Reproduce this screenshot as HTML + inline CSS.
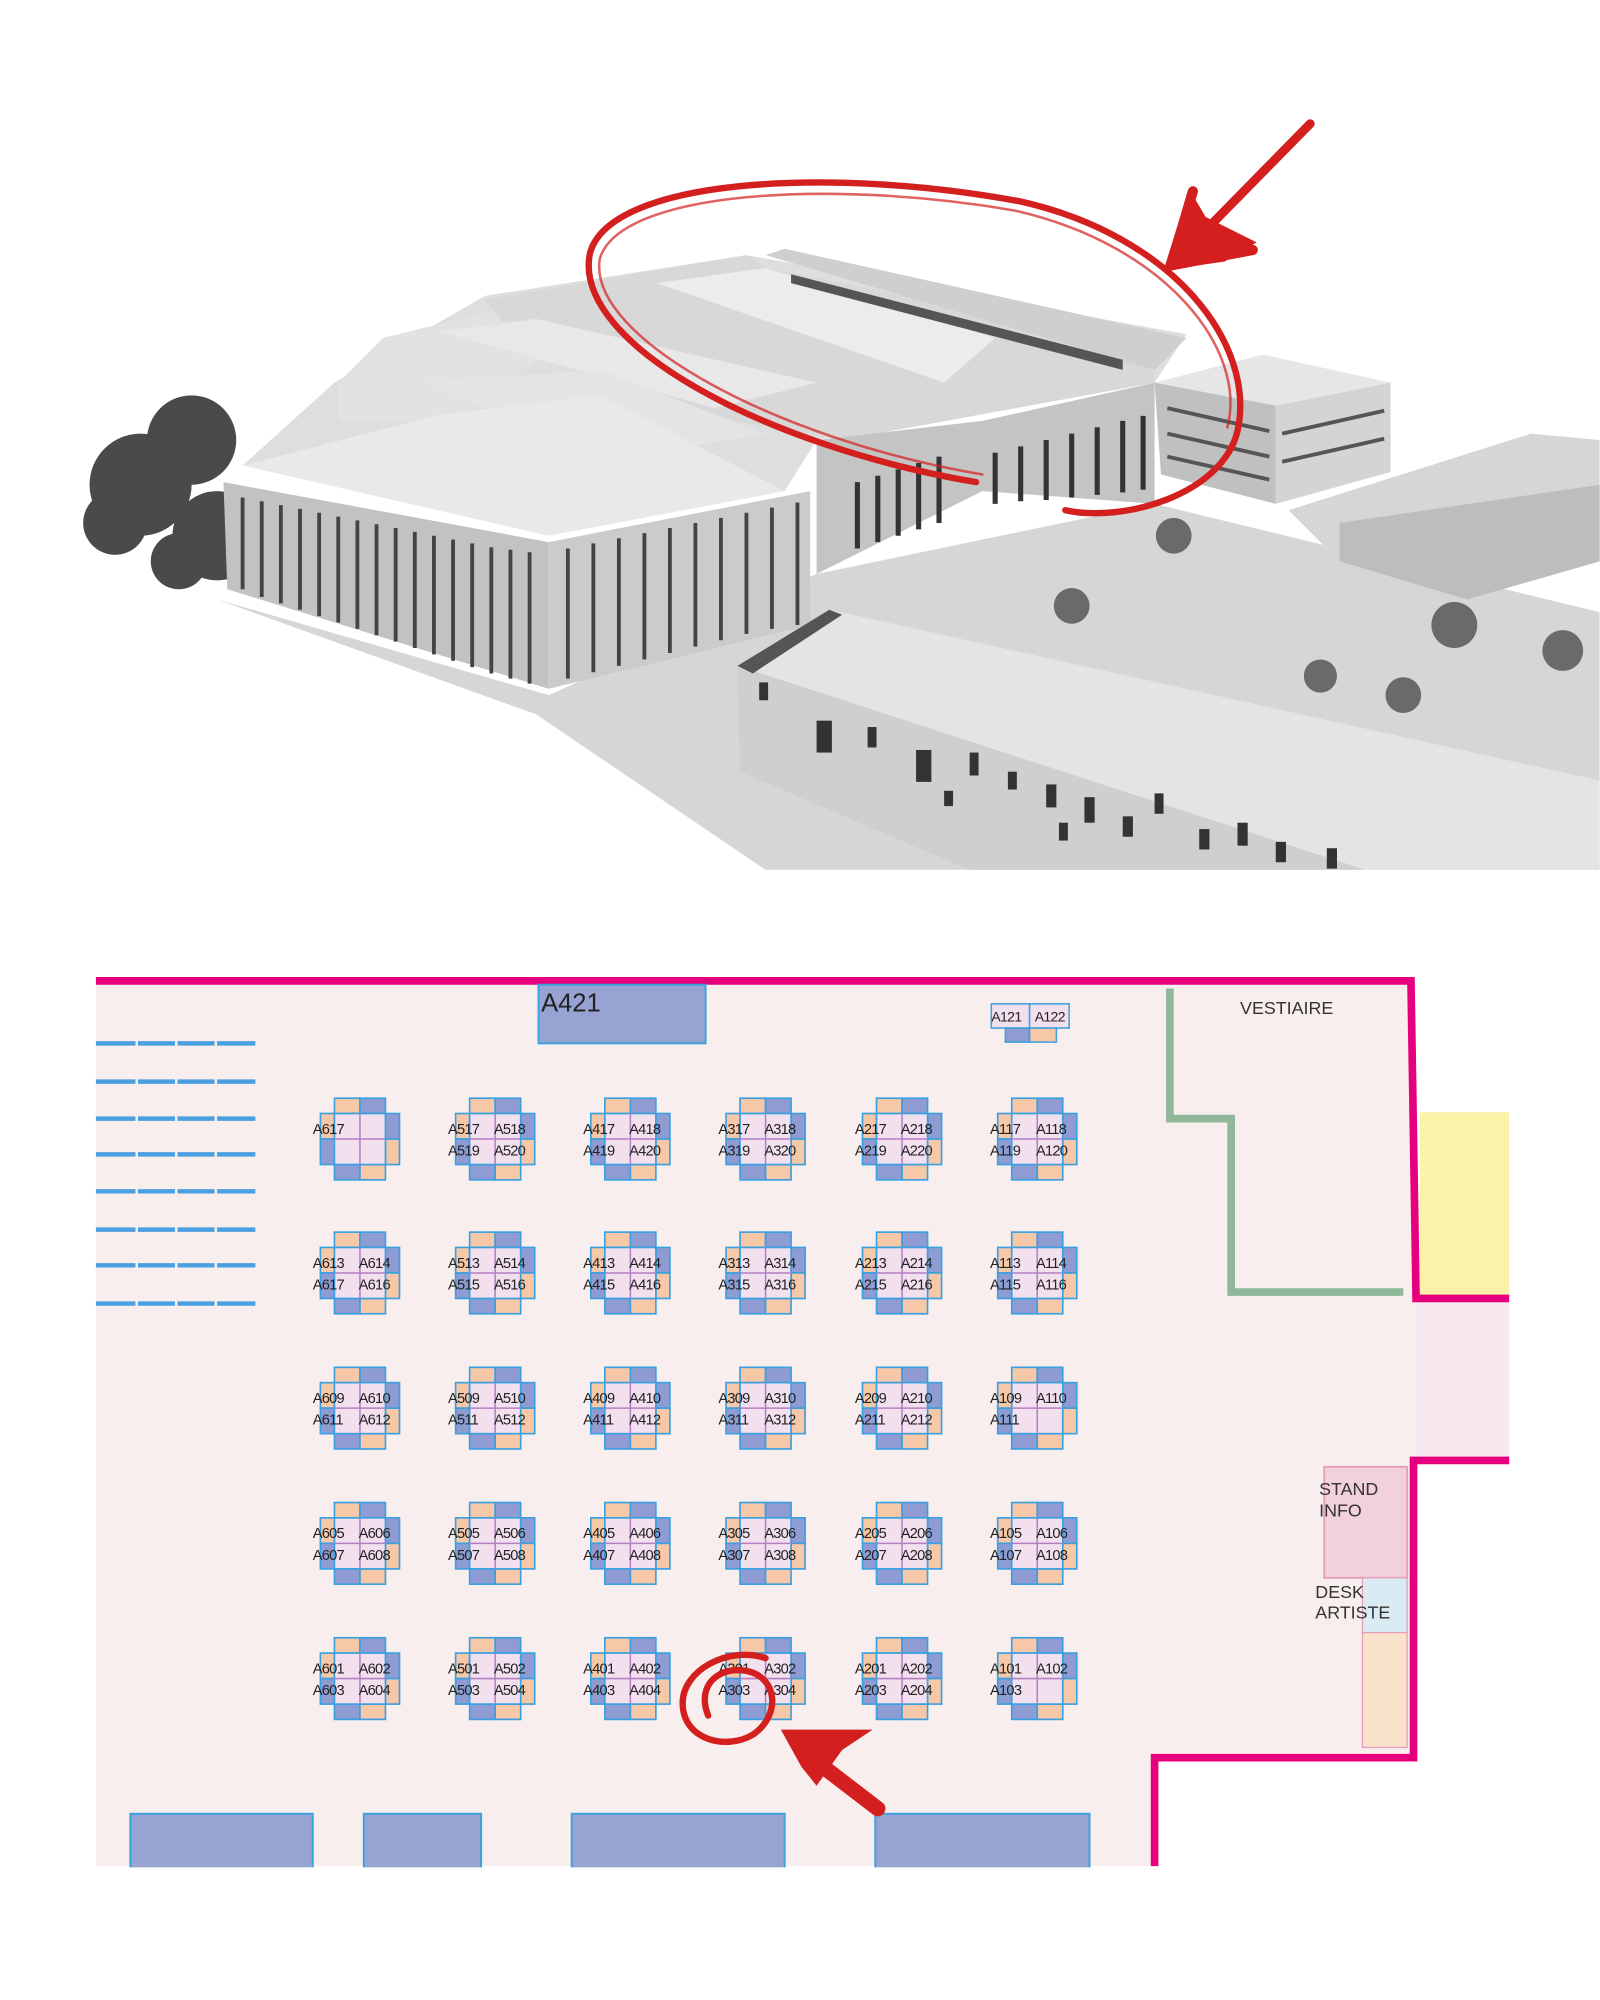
<!DOCTYPE html>
<html><head><meta charset="utf-8"><style>
html,body{margin:0;padding:0;background:#fff;}
svg{display:block;}
text{font-family:"Liberation Sans",sans-serif;}
</style></head><body>
<svg id="s" xmlns="http://www.w3.org/2000/svg" width="1600" height="2000" viewBox="0 0 1254 1568">
<rect width="1254" height="1568" fill="#fff"/>
<defs><clipPath id="ph"><rect x="0" y="0" width="1254" height="682"/></clipPath></defs>
<g clip-path="url(#ph)">
  <!-- ground -->
  <polygon points="170,470 430,545 640,450 905,395 1254,480 1254,682 600,682 420,560" fill="#d6d6d6"/>
  <!-- trees left -->
  <g fill="#4a4a4a"><circle cx="110" cy="380" r="40"/><circle cx="150" cy="345" r="35"/><circle cx="170" cy="420" r="35"/><circle cx="90" cy="410" r="25"/><circle cx="140" cy="440" r="22"/></g>
  <!-- base mass -->
  <polygon points="262,300 380,232 585,200 930,262 905,300 640,345 615,385 190,365" fill="#dedede"/>
  <!-- back buildings -->
  <polygon points="265,300 300,265 400,240 450,260 360,330 265,330" fill="#e2e2e2"/>
  <polygon points="380,235 585,200 600,210 900,270 905,300 660,345 520,320 400,260" fill="#d8d8d8"/>
  <polygon points="515,222 600,210 780,265 740,300" fill="#ececec"/>
  <polygon points="600,200 615,195 930,265 905,290" fill="#cfcfcf"/>
  <polygon points="620,215 880,282 880,290 620,222" fill="#555"/>
  <polygon points="345,260 420,250 640,300 560,320" fill="#e8e8e8"/>
  <polygon points="330,300 470,290 600,340 480,360" fill="#e4e4e4"/>
  <!-- middle facade -->
  <polygon points="640,345 770,330 905,300 905,395 770,385 640,450" fill="#c4c4c4"/>
  <g stroke="#333" stroke-width="4">
    <line x1="672" y1="378" x2="672" y2="430"/><line x1="688" y1="373" x2="688" y2="425"/><line x1="704" y1="368" x2="704" y2="420"/><line x1="720" y1="363" x2="720" y2="415"/><line x1="736" y1="358" x2="736" y2="410"/>
    <line x1="780" y1="355" x2="780" y2="395"/><line x1="800" y1="350" x2="800" y2="393"/><line x1="820" y1="345" x2="820" y2="392"/><line x1="840" y1="340" x2="840" y2="390"/><line x1="860" y1="335" x2="860" y2="388"/><line x1="880" y1="330" x2="880" y2="386"/><line x1="896" y1="326" x2="896" y2="384"/>
  </g>
  <!-- right cube -->
  <polygon points="905,300 990,278 1090,300 1000,318" fill="#e6e6e6"/>
  <polygon points="905,300 1000,318 1000,395 910,372" fill="#c0c0c0"/>
  <polygon points="1000,318 1090,300 1090,370 1000,395" fill="#d4d4d4"/>
  <g stroke="#555" stroke-width="3"><line x1="915" y1="320" x2="995" y2="338"/><line x1="915" y1="340" x2="995" y2="358"/><line x1="915" y1="358" x2="995" y2="376"/><line x1="1005" y1="340" x2="1085" y2="322"/><line x1="1005" y1="362" x2="1085" y2="344"/></g>
  <!-- far right building -->
  <polygon points="1010,400 1200,340 1254,345 1254,440 1150,470 1050,440" fill="#d6d6d6"/>
  <polygon points="1050,410 1254,380 1254,440 1150,470 1050,440" fill="#bdbdbd"/>
  <!-- left big building -->
  <polygon points="190,365 345,325 470,310 615,385 430,420" fill="#e9e9e9"/>
  <polygon points="175,378 430,425 430,540 178,462" fill="#c2c2c2"/>
  <polygon points="430,425 635,385 635,490 430,540" fill="#cbcbcb"/>
  <g stroke="#444" stroke-width="3">
    <line x1="190" y1="390" x2="190" y2="462"/><line x1="205" y1="393" x2="205" y2="468"/><line x1="220" y1="396" x2="220" y2="473"/><line x1="235" y1="399" x2="235" y2="478"/><line x1="250" y1="402" x2="250" y2="483"/><line x1="265" y1="405" x2="265" y2="488"/><line x1="280" y1="408" x2="280" y2="493"/><line x1="295" y1="411" x2="295" y2="498"/><line x1="310" y1="414" x2="310" y2="503"/><line x1="325" y1="417" x2="325" y2="508"/><line x1="340" y1="420" x2="340" y2="513"/><line x1="355" y1="423" x2="355" y2="518"/><line x1="370" y1="426" x2="370" y2="523"/><line x1="385" y1="429" x2="385" y2="528"/><line x1="400" y1="431" x2="400" y2="532"/><line x1="415" y1="433" x2="415" y2="536"/>
    <line x1="445" y1="430" x2="445" y2="532"/><line x1="465" y1="426" x2="465" y2="527"/><line x1="485" y1="422" x2="485" y2="522"/><line x1="505" y1="418" x2="505" y2="517"/><line x1="525" y1="414" x2="525" y2="512"/><line x1="545" y1="410" x2="545" y2="507"/><line x1="565" y1="406" x2="565" y2="502"/><line x1="585" y1="402" x2="585" y2="497"/><line x1="605" y1="398" x2="605" y2="493"/><line x1="625" y1="394" x2="625" y2="490"/>
  </g>
  <!-- trees plaza -->
  <g fill="#6a6a6a"><circle cx="920" cy="420" r="14"/><circle cx="840" cy="475" r="14"/><circle cx="1140" cy="490" r="18"/><circle cx="1100" cy="545" r="14"/><circle cx="1035" cy="530" r="13"/><circle cx="1225" cy="510" r="16"/></g>
  <!-- bottom right long building -->
  <polygon points="578,522 650,478 1254,612 1254,682 1070,682" fill="#e4e4e4"/>
  <polygon points="578,522 1070,682 760,682 580,605" fill="#cfcfcf"/>
  <polygon points="578,522 650,478 660,482 590,528" fill="#555"/>
  <g fill="#333">
    <rect x="595" y="535" width="7" height="14"/><rect x="640" y="565" width="12" height="25"/><rect x="680" y="570" width="7" height="16"/><rect x="718" y="588" width="12" height="25"/><rect x="760" y="590" width="7" height="18"/><rect x="790" y="605" width="7" height="14"/><rect x="820" y="615" width="8" height="18"/><rect x="850" y="625" width="8" height="20"/><rect x="880" y="640" width="8" height="16"/><rect x="905" y="622" width="7" height="16"/><rect x="940" y="650" width="8" height="16"/><rect x="970" y="645" width="8" height="18"/><rect x="1000" y="660" width="8" height="16"/><rect x="1040" y="665" width="8" height="16"/><rect x="830" y="645" width="7" height="14"/><rect x="740" y="620" width="7" height="12"/>
  </g>
</g>
<!-- red scribble photo -->
<g fill="none" stroke="#d41f1f" stroke-linecap="round">
  <path d="M765,378 C600,350 450,270 462,200 C475,140 650,130 800,158 C920,185 985,270 970,338 C958,388 880,410 835,400" stroke-width="5"/>
  <path d="M770,372 C610,345 460,265 470,203 C485,150 650,140 795,165 C915,192 978,275 962,335" stroke-width="2" opacity="0.7"/>
  <path d="M1027,97 L918,208" stroke-width="7"/>
  <path d="M918,208 L935,150 M918,208 L982,196" stroke-width="8"/>
</g>
<polygon points="912,212 932,148 945,170 985,190 960,205" fill="#d41f1f"/>

<!-- floor plan -->
<polygon points="75,769 1106,769 1110,1018 1110,1145 1108,1378 905,1378 905,1463 75,1463" fill="#f8eeee"/>
<rect x="1110" y="1021" width="73" height="124" fill="#f7e9ef"/>
<rect x="1113" y="872" width="70" height="145" fill="#fbf2a9"/>
<polyline points="917,775 917,877 965,877 965,1013 1100,1013" fill="none" stroke="#8fb89a" stroke-width="6"/>
<polyline points="75,769 1106,769 1110,1018 1183,1018" fill="none" stroke="#e6007e" stroke-width="6"/>
<polyline points="1183,1145 1108,1145 1108,1378 905,1378 905,1463" fill="none" stroke="#e6007e" stroke-width="6"/>
<text x="972" y="795" font-size="14" fill="#333">VESTIAIRE</text>

<rect x="422" y="772" width="131" height="46" fill="#97a3d3" stroke="#3aa0e0" stroke-width="1.5"/>
<text x="424" y="793" font-size="20" fill="#222">A421</text>

<g stroke="#3aa0e0" stroke-width="1.2">
  <rect x="777" y="787" width="30" height="19" fill="#f3e0ee"/><rect x="807" y="787" width="31" height="19" fill="#f3e0ee"/>
  <rect x="788" y="806" width="19" height="11" fill="#8f9bd3"/><rect x="807" y="806" width="21" height="11" fill="#f7c8a8"/>
</g>
<text x="777" y="801" font-size="11" fill="#222" letter-spacing="-0.5">A121</text>
<text x="811" y="801" font-size="11" fill="#222" letter-spacing="-0.5">A122</text>

<g id="lines" stroke="#4a9fe0" stroke-width="3.5"></g>

<g fill="#97a3d3" stroke="#3aa0e0" stroke-width="1.5">
  <rect x="102" y="1422" width="143" height="45"/><rect x="285" y="1422" width="92" height="45"/><rect x="448" y="1422" width="167" height="45"/><rect x="686" y="1422" width="168" height="45"/>
</g>
<rect x="75" y="1464" width="850" height="10" fill="#fff"/>

<rect x="1038" y="1150" width="65" height="87" fill="#f2d0dc" stroke="#e6a0bb" stroke-width="1.5"/>
<rect x="1068" y="1237" width="35" height="43" fill="#d9ecf3" stroke="#e6a0bb" stroke-width="1"/>
<rect x="1068" y="1280" width="35" height="90" fill="#fae3cc" stroke="#e6a0bb" stroke-width="1"/>
<text x="1034" y="1172" font-size="14" fill="#333">STAND</text>
<text x="1034" y="1189" font-size="14" fill="#333">INFO</text>
<text x="1031" y="1253" font-size="14" fill="#333">DESK</text>
<text x="1031" y="1269" font-size="14" fill="#333">ARTISTE</text>

<g id="pods"></g>

<!-- red scribble floor -->
<g fill="none" stroke="#d41f1f" stroke-linecap="round">
  <path d="M600,1300 C570,1290 535,1310 535,1335 C535,1365 570,1372 590,1360 C612,1345 610,1315 585,1310 C565,1306 545,1320 555,1345" stroke-width="5"/>
  <path d="M688,1418 L628,1372" stroke-width="12"/>
</g>
<polygon points="612,1356 684,1356 660,1372 640,1400 628,1385" fill="#d41f1f"/>

<script>
var NS="http://www.w3.org/2000/svg";
function el(p,t,a,txt){var e=document.createElementNS(NS,t);for(var k in a)e.setAttribute(k,a[k]);if(txt)e.textContent=txt;p.appendChild(e);return e;}
var L=document.getElementById("lines");
[818,848,877,905,934,964,992,1022].forEach(function(y){
  [[75,106],[108,137],[139,168],[170,200]].forEach(function(s){el(L,"line",{x1:s[0],y1:y,x2:s[1],y2:y});});
});
var P=document.getElementById("pods");
var cols=[282,388,494,600,707,813], rows=[893,998,1104,1210,1316];
var pre=["A6","A5","A4","A3","A2","A1"];
var rowNums=[[17,18,19,20],[13,14,15,16],[9,10,11,12],[5,6,7,8],[1,2,3,4]];
var OR="#f7c8a8",BL="#8f9bd3",BD="#3aa0e0";
function pad(n){return n<10?"0"+n:""+n;}
rows.forEach(function(cy,ri){cols.forEach(function(cx,ci){
  var g=el(P,"g",{});
  function r(x,y,w,h,f){el(g,"rect",{x:x,y:y,width:w,height:h,fill:f,stroke:BD,"stroke-width":1.3});}
  r(cx-20,cy-32,20,12,OR); r(cx,cy-32,20,12,BL);
  r(cx+20,cy-20,11,20,BL); r(cx+20,cy,11,20,OR);
  r(cx-20,cy+20,20,12,BL); r(cx,cy+20,20,12,OR);
  r(cx-31,cy-20,11,20,OR); r(cx-31,cy,11,20,BL);
  el(g,"rect",{x:cx-20,y:cy-20,width:40,height:40,fill:"#f3e0ee",stroke:BD,"stroke-width":1.3});
  el(g,"line",{x1:cx,y1:cy-20,x2:cx,y2:cy+20,stroke:"#b47fc0","stroke-width":1.2});
  el(g,"line",{x1:cx-20,y1:cy,x2:cx+20,y2:cy,stroke:"#b47fc0","stroke-width":1.2});
  var n=rowNums[ri].map(function(v){return pre[ci]+pad(v);});
  if(ri==0&&ci==0)n=["A617"];
  if(ri==1&&ci==0)n=["A613","A614","A617","A616"];
  if(ri==2&&ci==5)n=n.slice(0,3);
  if(ri==4&&ci==5)n=n.slice(0,3);
  var pos=[[cx-37,cy-4],[cx-1,cy-4],[cx-37,cy+13],[cx-1,cy+13]];
  n.forEach(function(t,i){el(g,"text",{x:pos[i][0],y:pos[i][1],"font-size":11.5,fill:"#222","letter-spacing":"-0.6"},t);});
});});
</script>
</svg>
</body></html>
